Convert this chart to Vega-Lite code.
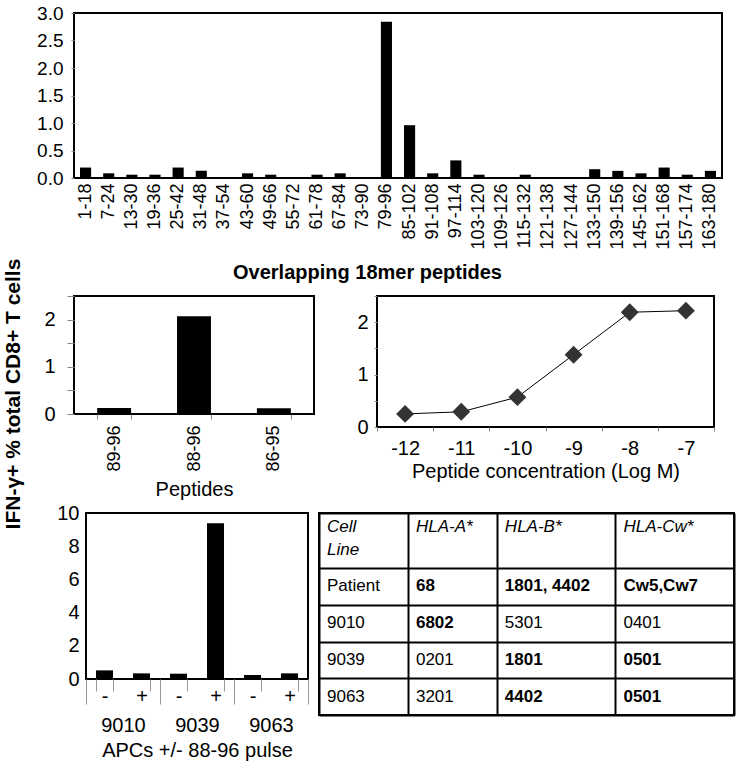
{
  "$schema": "https://vega.github.io/schema/vega-lite/v6.json",
  "background": "white",
  "padding": {"left": 2, "top": 3, "right": 5, "bottom": 5},
  "title": {"text": "IFN-γ+ % total CD8+ T cells", "orient": "left", "anchor": "middle", "fontSize": 21, "fontWeight": "bold", "font": "Liberation Sans", "color": "black", "offset": 4, "dx": -12},
  "config": {
    "font": "Liberation Sans",
    "view": {"stroke": "black", "strokeWidth": 2},
    "axis": {"labelColor": "black", "titleColor": "black", "labelFont": "Liberation Sans", "titleFont": "Liberation Sans", "grid": false, "domain": false, "titleFontWeight": "normal", "labelOverlap": false}
  },
  "spacing": 1,
  "vconcat": [
    {
      "width": 648, "height": 165,
      "data": {"values": [
        {"peptide": "1-18", "value": 0.19}, {"peptide": "7-24", "value": 0.085}, {"peptide": "13-30", "value": 0.06},
        {"peptide": "19-36", "value": 0.06}, {"peptide": "25-42", "value": 0.19}, {"peptide": "31-48", "value": 0.13},
        {"peptide": "37-54", "value": 0}, {"peptide": "43-60", "value": 0.085}, {"peptide": "49-66", "value": 0.06},
        {"peptide": "55-72", "value": 0}, {"peptide": "61-78", "value": 0.06}, {"peptide": "67-84", "value": 0.085},
        {"peptide": "73-90", "value": 0}, {"peptide": "79-96", "value": 2.84}, {"peptide": "85-102", "value": 0.96},
        {"peptide": "91-108", "value": 0.085}, {"peptide": "97-114", "value": 0.32}, {"peptide": "103-120", "value": 0.06},
        {"peptide": "109-126", "value": 0}, {"peptide": "115-132", "value": 0.06}, {"peptide": "121-138", "value": 0},
        {"peptide": "127-144", "value": 0}, {"peptide": "133-150", "value": 0.16}, {"peptide": "139-156", "value": 0.13},
        {"peptide": "145-162", "value": 0.085}, {"peptide": "151-168", "value": 0.19}, {"peptide": "157-174", "value": 0.06},
        {"peptide": "163-180", "value": 0.13}
      ]},
      "mark": {"type": "bar", "color": "black"},
      "encoding": {
        "x": {"field": "peptide", "type": "nominal", "sort": null, "scale": {"paddingInner": 0.52, "paddingOuter": 0.26},
          "axis": {"title": "Overlapping 18mer peptides", "titleFontWeight": "bold", "titleFontSize": 20, "titlePadding": 13, "titleX": 293, "labelAngle": 270, "labelFontSize": 18, "ticks": false, "labelPadding": 5}},
        "y": {"field": "value", "type": "quantitative", "scale": {"domain": [0, 3]},
          "axis": {"title": null, "values": [0, 0.5, 1, 1.5, 2, 2.5, 3], "format": ".1f", "labelFontSize": 19, "tickSize": 3, "tickColor": "#888", "labelPadding": 8, "minExtent": 45}}
      }
    },
    {
      "spacing": 40,
      "hconcat": [
        {
          "width": 240, "height": 118,
          "data": {"values": [
            {"peptide": "89-96", "value": 0.126}, {"peptide": "88-96", "value": 2.07}, {"peptide": "86-95", "value": 0.12}
          ]},
          "mark": {"type": "bar", "color": "black"},
          "encoding": {
            "x": {"field": "peptide", "type": "nominal", "sort": null, "scale": {"paddingInner": 0.575, "paddingOuter": 0.29},
              "axis": {"title": "Peptides", "titleFontSize": 20, "titlePadding": 8, "labelAngle": 270, "labelFontSize": 18, "tickBand": "extent", "tickSize": 5, "tickColor": "#888", "labelPadding": 6}},
            "y": {"field": "value", "type": "quantitative", "scale": {"domain": [0, 2.5]},
              "axis": {"title": null, "values": [0, 0.5, 1, 1.5, 2, 2.5], "labelExpr": "datum.value % 1 === 0 ? format(datum.value, 'd') : ''", "labelFontSize": 20, "tickSize": 7, "tickColor": "#888", "labelPadding": 12}}
          }
        },
        {
          "width": 337, "height": 131,
          "data": {"values": [
            {"logM": -12, "value": 0.25}, {"logM": -11, "value": 0.29}, {"logM": -10, "value": 0.57},
            {"logM": -9, "value": 1.38}, {"logM": -8, "value": 2.19}, {"logM": -7, "value": 2.22}
          ]},
          "encoding": {
            "x": {"field": "logM", "type": "ordinal", "scale": {"type": "band", "paddingInner": 0, "paddingOuter": 0},
              "axis": {"title": "Peptide concentration (Log M)", "titleFontSize": 20, "titlePadding": 3, "labelAngle": 0, "labelFontSize": 20, "tickBand": "extent", "tickSize": 4, "tickColor": "#888", "labelPadding": 7}},
            "y": {"field": "value", "type": "quantitative", "scale": {"domain": [0, 2.5]},
              "axis": {"title": null, "values": [0, 0.5, 1, 1.5, 2, 2.5], "labelExpr": "datum.value % 1 === 0 ? format(datum.value, 'd') : ''", "labelFontSize": 20, "tickSize": 3, "tickColor": "#888", "labelPadding": 6}}
          },
          "layer": [
            {"mark": {"type": "line", "color": "black", "strokeWidth": 1}},
            {"mark": {"type": "point", "shape": "diamond", "size": 320, "filled": true, "color": "#333", "opacity": 1}}
          ]
        }
      ]
    },
    {
      "spacing": 11,
      "bounds": "flush",
      "hconcat": [
        {
          "width": 1, "height": 166,
          "view": {"stroke": null},
          "data": {"values": []},
          "mark": "point",
          "encoding": {}
        },
        {
          "width": 222, "height": 166,
          "data": {"values": [
            {"cond": "9010 -", "apc": "9010", "value": 0.52}, {"cond": "9010 +", "apc": "9010", "value": 0.34},
            {"cond": "9039 -", "apc": "9039", "value": 0.32}, {"cond": "9039 +", "apc": "9039", "value": 9.38},
            {"cond": "9063 -", "apc": "9063", "value": 0.24}, {"cond": "9063 +", "apc": "9063", "value": 0.34}
          ]},
          "resolve": {"scale": {"x": "independent"}, "axis": {"x": "independent"}},
          "layer": [
            {
              "mark": {"type": "bar", "color": "black"},
              "encoding": {
                "x": {"field": "cond", "type": "nominal", "sort": null, "scale": {"paddingInner": 0.54, "paddingOuter": 0.27},
                  "axis": {"orient": "bottom", "title": null, "labelExpr": "substring(datum.label, 5)", "labelAngle": 0, "labelFontSize": 20, "tickBand": "extent", "tickSize": 12, "tickColor": "#999", "labelPadding": -5}},
                "y": {"field": "value", "type": "quantitative", "scale": {"domain": [0, 10]},
                  "axis": {"title": null, "values": [0, 2, 4, 6, 8, 10], "labelFontSize": 20, "ticks": false, "labelPadding": 7, "labelOverlap": false}}
              }
            },
            {
              "mark": {"type": "bar", "opacity": 0},
              "encoding": {
                "x": {"field": "apc", "type": "nominal", "sort": null, "scale": {"paddingInner": 0, "paddingOuter": 0},
                  "axis": {"orient": "bottom", "title": "APCs +/- 88-96 pulse", "titleFontSize": 20, "titlePadding": 5, "labelAngle": 0, "labelFontSize": 20, "tickBand": "extent", "tickSize": 25, "tickColor": "#999", "labelPadding": 11}}
              }
            }
          ]
        },
        {
          "width": 415, "height": 202,
          "data": {"values": [
            {"r": "hdr1", "c": "line", "t": "Cell", "kind": "header"},
            {"r": "hdr2", "c": "line", "t": "Line", "kind": "header2"},
            {"r": "hdr1", "c": "A", "t": "HLA-A*", "kind": "header"},
            {"r": "hdr1", "c": "B", "t": "HLA-B*", "kind": "header"},
            {"r": "hdr1", "c": "Cw", "t": "HLA-Cw*", "kind": "header"},
            {"r": "Patient", "c": "line", "t": "Patient", "kind": "plain"},
            {"r": "Patient", "c": "A", "t": "68", "kind": "match"},
            {"r": "Patient", "c": "B", "t": "1801, 4402", "kind": "match"},
            {"r": "Patient", "c": "Cw", "t": "Cw5,Cw7", "kind": "match"},
            {"r": "9010", "c": "line", "t": "9010", "kind": "plain"},
            {"r": "9010", "c": "A", "t": "6802", "kind": "match"},
            {"r": "9010", "c": "B", "t": "5301", "kind": "plain"},
            {"r": "9010", "c": "Cw", "t": "0401", "kind": "plain"},
            {"r": "9039", "c": "line", "t": "9039", "kind": "plain"},
            {"r": "9039", "c": "A", "t": "0201", "kind": "plain"},
            {"r": "9039", "c": "B", "t": "1801", "kind": "match"},
            {"r": "9039", "c": "Cw", "t": "0501", "kind": "match"},
            {"r": "9063", "c": "line", "t": "9063", "kind": "plain"},
            {"r": "9063", "c": "A", "t": "3201", "kind": "plain"},
            {"r": "9063", "c": "B", "t": "4402", "kind": "match"},
            {"r": "9063", "c": "Cw", "t": "0501", "kind": "match"}
          ]},
          "encoding": {
            "x": {"field": "c", "type": "nominal", "bandPosition": 0,
              "scale": {"domain": ["line", "line_2", "line_3", "A", "A_2", "A_3", "B", "B_2", "B_3", "B_4", "Cw", "Cw_2", "Cw_3", "Cw_4"], "paddingInner": 0, "paddingOuter": 0},
              "axis": {"title": null, "labels": false, "ticks": false, "domain": false, "grid": true, "gridColor": "black", "gridWidth": 2, "tickBand": "extent",
                "gridOpacity": {"condition": {"test": "indexof(['line_3', 'A_3', 'B_4', 'Cw_4'], datum.value) < 0 && datum.value != null", "value": 0}, "value": 1}}},
            "text": {"field": "t", "type": "nominal"}
          },
          "layer": [
            {"transform": [{"filter": "datum.kind === 'header'"}],
             "mark": {"type": "text", "align": "left", "baseline": "middle", "dx": 8, "fontSize": 17, "fontStyle": "italic", "color": "black"},
             "encoding": {"y": {"field": "r", "type": "nominal", "bandPosition": 0.75,
               "scale": {"domain": ["hdr1", "hdr2", "hdr3", "Patient", "Patient_b", "9010", "9010_b", "9039", "9039_b", "9063", "9063_b"], "paddingInner": 0, "paddingOuter": 0},
               "axis": {"title": null, "labels": false, "ticks": false, "domain": false, "grid": true, "gridColor": "black", "gridWidth": 2, "tickBand": "extent",
                 "gridOpacity": {"condition": {"test": "indexof(['hdr1', 'hdr2', 'Patient', '9010', '9039', '9063'], datum.value) >= 0", "value": 0}, "value": 1}}}}},
            {"transform": [{"filter": "datum.kind === 'header2'"}],
             "mark": {"type": "text", "align": "left", "baseline": "middle", "dx": 8, "fontSize": 17, "fontStyle": "italic", "color": "black"},
             "encoding": {"y": {"field": "r", "type": "nominal", "bandPosition": 1}}},
            {"transform": [{"filter": "datum.kind === 'plain'"}],
             "mark": {"type": "text", "align": "left", "baseline": "middle", "dx": 8, "fontSize": 17, "color": "black"},
             "encoding": {"y": {"field": "r", "type": "nominal", "bandPosition": 1}}},
            {"transform": [{"filter": "datum.kind === 'match'"}],
             "mark": {"type": "text", "align": "left", "baseline": "middle", "dx": 8, "fontSize": 17, "fontWeight": "bold", "color": "black"},
             "encoding": {"y": {"field": "r", "type": "nominal", "bandPosition": 1}}}
          ]
        }
      ]
    }
  ]
}
